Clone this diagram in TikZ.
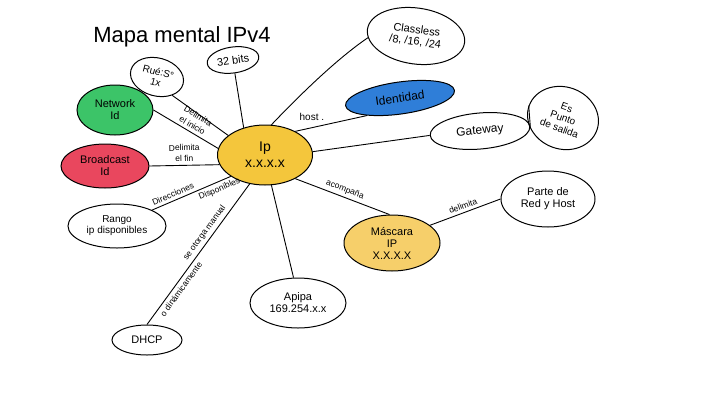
\documentclass[tikz,border=0pt]{standalone}
\usepackage{fontspec}
\setmainfont{Liberation Sans}
\usetikzlibrary{shapes.geometric}
\definecolor{ipy}{HTML}{F4C63C}
\definecolor{masky}{HTML}{F6CF6A}
\definecolor{netg}{HTML}{3CC468}
\definecolor{brdr}{HTML}{E9475E}
\definecolor{identb}{HTML}{2F7ED8}
\tikzset{
  bub/.style={ellipse, draw=black, line width=1pt, inner sep=0pt, align=center, font=\fontsize{11}{12}\selectfont},
  conn/.style={draw=black, line width=0.9pt},
  elab/.style={font=\fontsize{8.5}{11}\selectfont, align=center, inner sep=3pt}
}
\begin{document}
\begin{tikzpicture}[x=1pt,y=-1pt]
\useasboundingbox (0,0) rectangle (720,405);
\fill[white] (0,0) rectangle (720,405);

\node[font=\fontsize{22}{24}\selectfont] (title) at (182,37) {Mapa mental IPv4};

\node[bub, fill=ipy, minimum width=95pt, minimum height=60pt, font=\fontsize{14}{16}\selectfont] (ip) at (265,155) {Ip\\x.x.x.x};
\node[bub, minimum width=52pt, minimum height=26pt, rotate=8] (t32) at (233,60) {32 bits};
\node[bub, minimum width=98pt, minimum height=56pt, rotate=-8] (cls) at (416,36) {Classless\\/8, /16, /24};
\node[bub, minimum width=54pt, minimum height=38pt, rotate=-15, font=\fontsize{10}{11}\selectfont] (rut) at (157,77) {Rué:S°\\1x};
\node[bub, fill=netg, minimum width=76pt, minimum height=50pt] (net) at (115,110) {Network\\Id};
\node[bub, fill=brdr, minimum width=88pt, minimum height=44pt] (brd) at (105,166) {Broadcast\\Id};
\node[bub, minimum width=98pt, minimum height=44pt, font=\fontsize{10}{11}\selectfont] (rng) at (117,226) {Rango\\ip disponibles};
\node[bub, minimum width=70pt, minimum height=30pt] (dhcp) at (147,340) {DHCP};
\node[bub, minimum width=96pt, minimum height=50pt] (apipa) at (298,303) {Apipa\\169.254.x.x};
\node[bub, fill=masky, minimum width=96pt, minimum height=56pt] (mask) at (392,243) {Máscara\\IP\\X.X.X.X};
\node[bub, minimum width=94pt, minimum height=56pt] (prh) at (548,199) {Parte de\\Red y Host};
\node[bub, fill=identb, minimum width=110pt, minimum height=32pt, rotate=8, font=\fontsize{12}{13}\selectfont] (ident) at (400,98) {Identidad};
\node[bub, minimum width=100pt, minimum height=36pt, rotate=5, font=\fontsize{12}{13}\selectfont] (gw) at (480,131) {Gateway};
\node[bub, minimum width=72pt, minimum height=62pt, rotate=-20, font=\fontsize{10}{11}\selectfont] (pds) at (563,118) {Es\\Punto\\de salida};

\draw[conn] (t32.south) -- (ip.128);
\draw[conn] (ip.78) .. controls (295,100) and (335,60) .. (cls.190);
\draw[conn] (rut.south east) -- (ip.152);
\draw[conn] (net.east) -- node[elab, sloped, above, pos=0.55] {Delimita\\el inicio} (ip.172);
\draw[conn] (brd.east) -- node[elab, sloped, above, pos=0.5] {Delimita\\el fin} (ip.192);
\draw[conn] (rng.north east) -- node[elab, sloped, above, pos=0.3] {Direcciones} node[elab, sloped, below, pos=0.82] {Disponibles} (ip.212);
\draw[conn] (dhcp.north) -- node[elab, sloped, above, pos=0.62] {se otorga manual} node[elab, sloped, below, pos=0.28] {o dinámicamente} (ip.242);
\draw[conn] (ip.282) -- (apipa.100);
\draw[conn] (ip.322) -- node[elab, sloped, above] {acompaña} (mask.95);
\draw[conn] (mask.25) -- node[elab, sloped, above] {delimita} (prh.west);
\draw[conn] (ip.4) -- (gw.west);
\draw[conn] (ip.38) -- node[elab, pos=0.45, anchor=south east, font=\fontsize{10}{11}\selectfont] {host .} (ident.200);
\draw[conn] (gw.east) -- (pds.west);
\end{tikzpicture}
\end{document}
